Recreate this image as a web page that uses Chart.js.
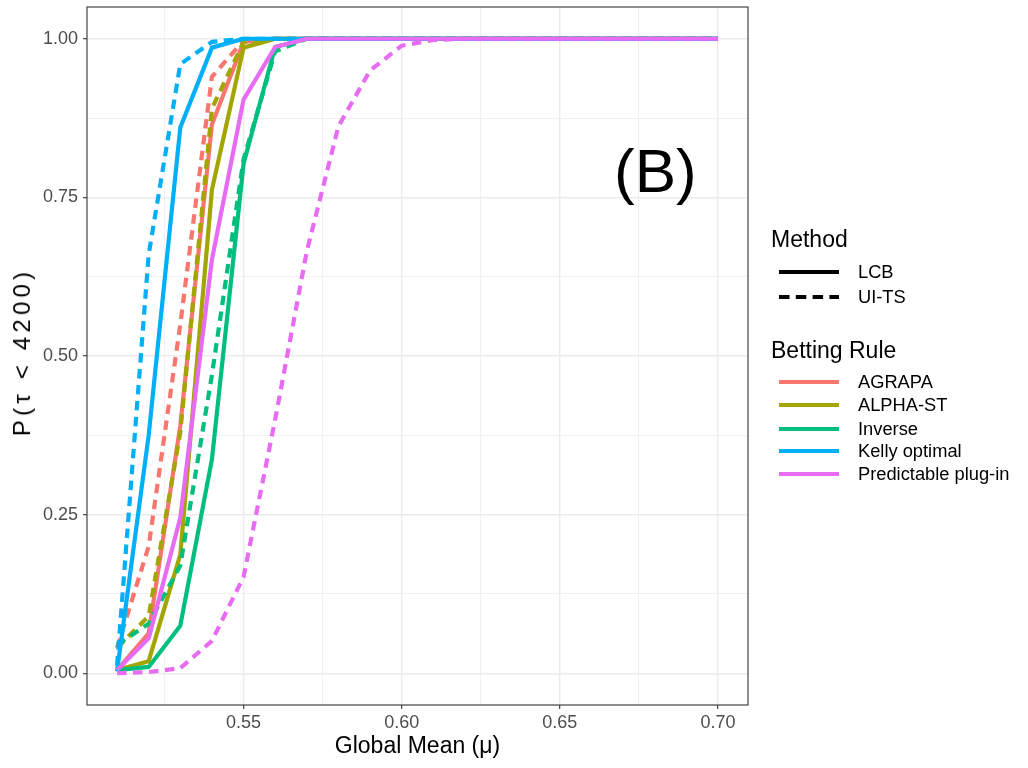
<!DOCTYPE html>
<html>
<head>
<meta charset="utf-8">
<script src="https://cdn.jsdelivr.net/npm/chart.js@4.4.1/dist/chart.umd.min.js"></script>
<style>
html,body{margin:0;padding:0;background:#fff;}
#wrap{position:relative;width:1028px;height:768px;font-family:"Liberation Sans",Arial,Helvetica,sans-serif;overflow:hidden;}
#c{position:absolute;left:0;top:0;}
.t{position:absolute;white-space:nowrap;color:#000;}
#ytitle{position:absolute;left:22px;top:352px;font-size:24px;line-height:28px;letter-spacing:4.2px;white-space:nowrap;color:#000;transform:translate(-50%,-50%) rotate(-90deg);}
</style>
</head>
<body>
<div id="wrap">
<canvas id="c" width="1028" height="768"></canvas>
<div id="legend"></div>
<div id="ytitle"></div>
<div class="t" id="panelTag" style="left:614px;top:140px;font-size:62px;line-height:62px;">(B)</div>
</div>
<script>
// ---------------- data ----------------
const xValues = [0.51,0.52,0.53,0.54,0.55,0.56,0.57,0.58,0.59,0.60,0.61,0.62,0.63,0.64,0.65,0.66,0.67,0.68,0.69,0.70];

const agrapaLCB   = [0.005,0.063,0.39,0.865,0.995,1,1,1,1,1,1,1,1,1,1,1,1,1,1,1];
const agrapaUITS  = [0.04,0.20,0.55,0.94,0.997,1,1,1,1,1,1,1,1,1,1,1,1,1,1,1];
const alphaLCB    = [0.005,0.019,0.187,0.762,0.986,1,1,1,1,1,1,1,1,1,1,1,1,1,1,1];
const alphaUITS   = [0.04,0.09,0.38,0.89,0.995,1,1,1,1,1,1,1,1,1,1,1,1,1,1,1];
const inverseLCB  = [0.005,0.01,0.075,0.337,0.803,0.987,1,1,1,1,1,1,1,1,1,1,1,1,1,1];
const inverseUITS = [0.045,0.078,0.17,0.47,0.81,0.98,1,1,1,1,1,1,1,1,1,1,1,1,1,1];
const kellyLCB    = [0.003,0.375,0.86,0.986,1,1,1,1,1,1,1,1,1,1,1,1,1,1,1,1];
const kellyUITS   = [0.012,0.66,0.96,0.995,1,1,1,1,1,1,1,1,1,1,1,1,1,1,1,1];
const plugLCB     = [0.005,0.055,0.245,0.652,0.904,0.987,1,1,1,1,1,1,1,1,1,1,1,1,1,1];
const plugUITS    = [0,0.002,0.008,0.051,0.152,0.40,0.665,0.862,0.95,0.989,0.998,1,1,1,1,1,1,1,1,1];

const bettingRules = ['AGRAPA','ALPHA-ST','Inverse','Kelly optimal','Predictable plug-in'];
const ruleColors   = ['#F8766D','#A3A500','#00BF7D','#00B0F6','#E76BF3'];
const methods      = ['LCB','UI-TS'];
const seriesLCB    = [agrapaLCB, alphaLCB, inverseLCB, kellyLCB, plugLCB];
const seriesUITS   = [agrapaUITS, alphaUITS, inverseUITS, kellyUITS, plugUITS];

const xTicks      = [0.525,0.55,0.575,0.60,0.625,0.65,0.675,0.70];
const xMajor      = [0.55,0.60,0.65,0.70];
const yTicks      = [0,0.125,0.25,0.375,0.5,0.625,0.75,0.875,1.0];
const yMajor      = [0,0.25,0.5,0.75,1.0];

const xTitle = 'Global Mean (\u03BC)';
const yTitle = 'P(\u03C4\u00A0<\u00A04200)';
const legendTitleMethod = 'Method';
const legendTitleRule = 'Betting Rule';

// ---------------- chart ----------------
const FONT = '"Liberation Sans", Arial, Helvetica, sans-serif';
const DASH = [9.5, 6.5];
const isMaj = (list, v) => list.some(m => Math.abs(m - v) < 1e-9);

const datasets = [];
bettingRules.forEach((rule, r) => {
  [seriesLCB[r], seriesUITS[r]].forEach((arr, k) => {
    datasets.push({
      label: rule + ' - ' + methods[k],
      data: xValues.map((x, i) => ({x: x, y: arr[i]})),
      borderColor: ruleColors[r],
      backgroundColor: ruleColors[r],
      borderWidth: 4.2,
      borderDash: k === 1 ? DASH : [],
      pointRadius: 0,
      fill: false,
      tension: 0
    });
  });
});
datasets.forEach((d, i) => { d.order = datasets.length - i; });

const panelBorder = {
  id: 'panelBorder',
  afterDraw(chart) {
    const {ctx, chartArea: a} = chart;
    ctx.save();
    ctx.strokeStyle = '#333333';
    ctx.lineWidth = 1.1;
    ctx.strokeRect(a.left, a.top, a.right - a.left, a.bottom - a.top);
    ctx.restore();
  }
};

new Chart(document.getElementById('c'), {
  type: 'line',
  data: {datasets: datasets},
  plugins: [panelBorder],
  options: {
    responsive: false,
    animation: false,
    devicePixelRatio: 1,
    layout: {padding: {left: 0, top: 7, right: 280, bottom: 0}},
    plugins: {legend: {display: false}, tooltip: {enabled: false}},
    elements: {line: {borderCapStyle: 'butt', borderJoinStyle: 'round'}, point: {radius: 0}},
    scales: {
      x: {
        type: 'linear', min: 0.5005, max: 0.7095,
        afterBuildTicks: s => { s.ticks = xTicks.map(v => ({value: v})); },
        afterFit: s => { s.height = 63; s.paddingLeft = 0; s.paddingRight = 0; },
        border: {display: false},
        grid: {
          color: '#EBEBEB',
          lineWidth: c => (c.tick && isMaj(xMajor, c.tick.value)) ? 1.4 : 0.7,
          drawTicks: true, tickLength: 4,
          tickColor: c => (c.tick && isMaj(xMajor, c.tick.value)) ? '#333333' : 'rgba(0,0,0,0)',
          tickWidth: 1.1
        },
        ticks: {
          autoSkip: false, maxRotation: 0, padding: 3,
          color: '#4D4D4D', font: {family: FONT, size: 18},
          callback: v => isMaj(xMajor, v) ? Number(v).toFixed(2) : ''
        },
        title: {display: true, text: xTitle, color: '#000', font: {family: FONT, size: 23}, padding: {top: 0, bottom: 8}}
      },
      y: {
        type: 'linear', min: -0.05, max: 1.05,
        afterBuildTicks: s => { s.ticks = yTicks.map(v => ({value: v})); },
        afterFit: s => { s.width = 87; s.paddingTop = 0; s.paddingBottom = 0; },
        border: {display: false},
        grid: {
          color: '#EBEBEB',
          lineWidth: c => (c.tick && isMaj(yMajor, c.tick.value)) ? 1.4 : 0.7,
          drawTicks: true, tickLength: 4,
          tickColor: c => (c.tick && isMaj(yMajor, c.tick.value)) ? '#333333' : 'rgba(0,0,0,0)',
          tickWidth: 1.1
        },
        ticks: {
          autoSkip: false, padding: 5,
          color: '#4D4D4D', font: {family: FONT, size: 18},
          callback: v => isMaj(yMajor, v) ? Number(v).toFixed(2) : ''
        },
        title: {display: false, text: yTitle}
      }
    }
  }
});

document.getElementById('ytitle').textContent = yTitle;

// ---------------- legend (HTML) ----------------
(function buildLegend() {
  const wrap = document.getElementById('legend');
  const put = (html) => { wrap.insertAdjacentHTML('beforeend', html); };
  const text = (str, left, cy, size) => {
    const lh = Math.round(size * 1.3);
    put('<div class="t" style="left:' + left + 'px;top:' + (cy - lh / 2) + 'px;font-size:' + size + 'px;line-height:' + lh + 'px;">' + str + '</div>');
  };
  const key = (cy, color, dashed) => {
    put('<svg style="position:absolute;left:779px;top:' + (cy - 4) + 'px" width="61" height="8">' +
        '<line x1="0" y1="4" x2="60" y2="4" stroke="' + color + '" stroke-width="4.2"' +
        (dashed ? ' stroke-dasharray="10.5,6.3"' : '') + '/></svg>');
  };
  text(legendTitleMethod, 771, 239, 23);
  const mY = [272, 297];
  methods.forEach((m, i) => { key(mY[i], '#000', i === 1); text(m, 858, mY[i], 18.3); });
  text(legendTitleRule, 771, 350, 23);
  const rY = [382, 405, 428.5, 451, 474];
  bettingRules.forEach((r, i) => { key(rY[i], ruleColors[i], false); text(r, 858, rY[i], 18.3); });
})();
</script>
</body>
</html>
